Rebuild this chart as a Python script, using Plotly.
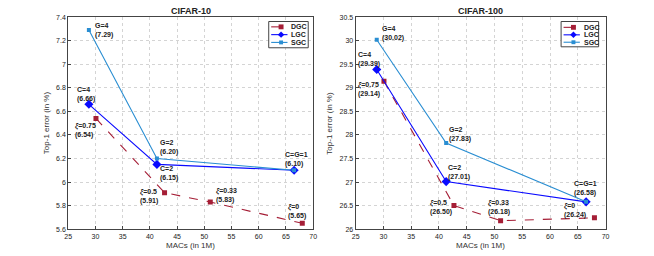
import plotly.graph_objects as go

# CIFAR-10
c10_dgc_x = [30.1, 42.7, 51.1, 68.0]
c10_dgc_y = [6.54, 5.91, 5.83, 5.65]
c10_lgc_x = [28.8, 41.3, 66.5]
c10_lgc_y = [6.66, 6.15, 6.10]
c10_sgc_x = [28.8, 41.3, 66.5]
c10_sgc_y = [7.29, 6.20, 6.10]

# CIFAR-100
c100_dgc_x = [30.1, 42.7, 51.1, 68.0]
c100_dgc_y = [29.14, 26.50, 26.18, 26.24]
c100_lgc_x = [28.8, 41.3, 66.5]
c100_lgc_y = [29.39, 27.01, 26.58]
c100_sgc_x = [28.8, 41.3, 66.5]
c100_sgc_y = [30.02, 27.83, 26.58]

series_names = ["DGC", "LGC", "SGC"]

# labels: (text, x, y)
c10_labels = [
    ("G=4<br>(7.29)", 29.8, 7.283),
    ("C=4<br>(6.66)", 26.4, 6.747),
    ("<i>ξ</i>=0.75<br>(6.54)", 26.1, 6.437),
    ("G=2<br>(6.20)", 41.6, 6.29),
    ("C=2<br>(6.15)", 41.6, 6.07),
    ("C=G=1<br>(6.10)", 64.6, 6.195),
    ("<i>ξ</i>=0.5<br>(5.91)", 38.0, 5.876),
    ("<i>ξ</i>=0.33<br>(5.83)", 51.9, 5.89),
    ("<i>ξ</i>=0<br>(5.65)", 65.2, 5.752),
]
c100_labels = [
    ("G=4<br>(30.02)", 29.5, 30.155),
    ("C=4<br>(29.39)", 25.2, 29.605),
    ("<i>ξ</i>=0.75<br>(29.14)", 25.2, 28.965),
    ("G=2<br>(27.83)", 41.7, 28.0),
    ("C=2<br>(27.01)", 41.5, 27.21),
    ("C=G=1<br>(26.58)", 64.2, 26.86),
    ("<i>ξ</i>=0.5<br>(26.50)", 38.2, 26.46),
    ("<i>ξ</i>=0.33<br>(26.18)", 48.7, 26.46),
    ("<i>ξ</i>=0<br>(26.24)", 62.3, 26.40),
]

DGC_C = "#A51E36"
LGC_C = "#0A0AFF"
SGC_C = "#2A8ED2"
FONT = "Liberation Sans, Arial, sans-serif"
W, H = 654, 256

fig = go.Figure()

def add_series(x, y, name, color, dash, symbol, msize, xa, ya):
    fig.add_trace(go.Scatter(
        x=x, y=y, name=name, mode="lines+markers",
        line=dict(color=color, width=1.1, dash=dash),
        marker=dict(color=color, symbol=symbol, size=msize),
        xaxis=xa, yaxis=ya, showlegend=False))

for xa, ya, data in [
    ("x", "y", (c10_dgc_x, c10_dgc_y, c10_lgc_x, c10_lgc_y, c10_sgc_x, c10_sgc_y)),
    ("x2", "y2", (c100_dgc_x, c100_dgc_y, c100_lgc_x, c100_lgc_y, c100_sgc_x, c100_sgc_y)),
]:
    dx, dy, lx, ly, sx, sy = data
    add_series(dx, dy, "DGC", DGC_C, "dash", "square", 5, xa, ya)
    add_series(lx, ly, "LGC", LGC_C, "solid", "diamond", 7, xa, ya)
    add_series(sx, sy, "SGC", SGC_C, "solid", "square", 4, xa, ya)

annotations = []
for labels, xr, yr in [(c10_labels, "x", "y"), (c100_labels, "x2", "y2")]:
    for (t, x, y) in labels:
        annotations.append(dict(text="<b>" + t + "</b>", x=x, y=y, xref=xr, yref=yr,
                                xanchor="left", yanchor="middle", align="left", showarrow=False,
                                borderpad=0,
                                font=dict(size=7, color="#222", family=FONT)))

def px(x):
    return x / W

def py(y):
    return 1 - y / H

# titles and axis titles
for txt, cx in [("CIFAR-10", 189), ("CIFAR-100", 482)]:
    annotations.append(dict(text="<b>" + txt + "</b>", x=px(cx), y=py(7), xref="paper", yref="paper",
                            xanchor="center", yanchor="middle", showarrow=False,
                            font=dict(size=9, color="#222", family=FONT)))
for cx in [189, 482]:
    annotations.append(dict(text="MACs (in 1M)", x=px(cx), y=py(248), xref="paper", yref="paper",
                            xanchor="center", yanchor="middle", showarrow=False,
                            font=dict(size=8, color="#333", family=FONT)))
for cx in [43, 330]:
    annotations.append(dict(text="Top-1 error (in %)", x=px(cx), y=py(122), xref="paper", yref="paper",
                            xanchor="center", yanchor="middle", showarrow=False, textangle=-90,
                            font=dict(size=8, color="#333", family=FONT)))

# manual compact legends
shapes = []
colors = [DGC_C, LGC_C, SGC_C]
dashes = ["dash", "solid", "solid"]
for (bx0, bx1, by0, by1, rows) in [(268, 308, 18, 45, [23.5, 31.5, 39.5]),
                                   (564, 602, 18, 44, [24, 31.7, 39.3])]:
    shapes.append(dict(type="rect", xref="paper", yref="paper",
                       x0=px(bx0), x1=px(bx1), y0=py(by1), y1=py(by0),
                       fillcolor="white", line=dict(color="#444", width=1), layer="above"))
    for i, ry in enumerate(rows):
        c = colors[i]
        shapes.append(dict(type="line", xref="paper", yref="paper",
                           x0=px(bx0 + 2.5), x1=px(bx0 + 19), y0=py(ry), y1=py(ry),
                           line=dict(color=c, width=1.1, dash="dash" if dashes[i] == "dash" else "solid"),
                           layer="above"))
        mx = bx0 + 12.5
        if i == 0:
            s = 2.5
            shapes.append(dict(type="rect", xref="paper", yref="paper",
                               x0=px(mx - s), x1=px(mx + s), y0=py(ry + s), y1=py(ry - s),
                               fillcolor=c, line=dict(width=0), layer="above"))
        elif i == 1:
            s = 3.3
            path = "M %f %f L %f %f L %f %f L %f %f Z" % (
                px(mx - s), py(ry), px(mx), py(ry - s), px(mx + s), py(ry), px(mx), py(ry + s))
            shapes.append(dict(type="path", xref="paper", yref="paper", path=path,
                               fillcolor=c, line=dict(width=0), layer="above"))
        else:
            s = 2
            shapes.append(dict(type="rect", xref="paper", yref="paper",
                               x0=px(mx - s), x1=px(mx + s), y0=py(ry + s), y1=py(ry - s),
                               fillcolor=c, line=dict(width=0), layer="above"))
        annotations.append(dict(text="<b>" + series_names[i] + "</b>", x=px(bx0 + 22), y=py(ry),
                                xref="paper", yref="paper", xanchor="left", yanchor="middle",
                                showarrow=False, borderpad=0,
                                font=dict(size=7, color="#222", family=FONT)))

axis_common = dict(
    showgrid=True, gridcolor="#d4d4d4", griddash="dot", gridwidth=0.8,
    showline=True, linecolor="#444", linewidth=1, mirror=True,
    ticks="inside", ticklen=3, tickcolor="#444",
    tickfont=dict(size=7, color="#222", family=FONT),
    zeroline=False,
)
yd = [1 - 231.5 / H, 1 - 13.5 / H]

fig.update_layout(
    width=W, height=H,
    margin=dict(l=0, r=0, t=0, b=0),
    paper_bgcolor="white", plot_bgcolor="white",
    annotations=annotations,
    shapes=shapes,
    showlegend=False,
    xaxis=dict(domain=[65 / W, 313 / W], range=[25, 70], dtick=5, anchor="y", **axis_common),
    yaxis=dict(domain=yd, range=[5.6, 7.4], dtick=0.2, anchor="x", **axis_common),
    xaxis2=dict(domain=[356 / W, 609 / W], range=[25, 70], dtick=5, anchor="y2", **axis_common),
    yaxis2=dict(domain=yd, range=[26, 30.5], dtick=0.5, anchor="x2", **axis_common),
)

fig.write_html("out.html", config={"displayModeBar": False},
               post_script="document.body.style.margin='0';")
